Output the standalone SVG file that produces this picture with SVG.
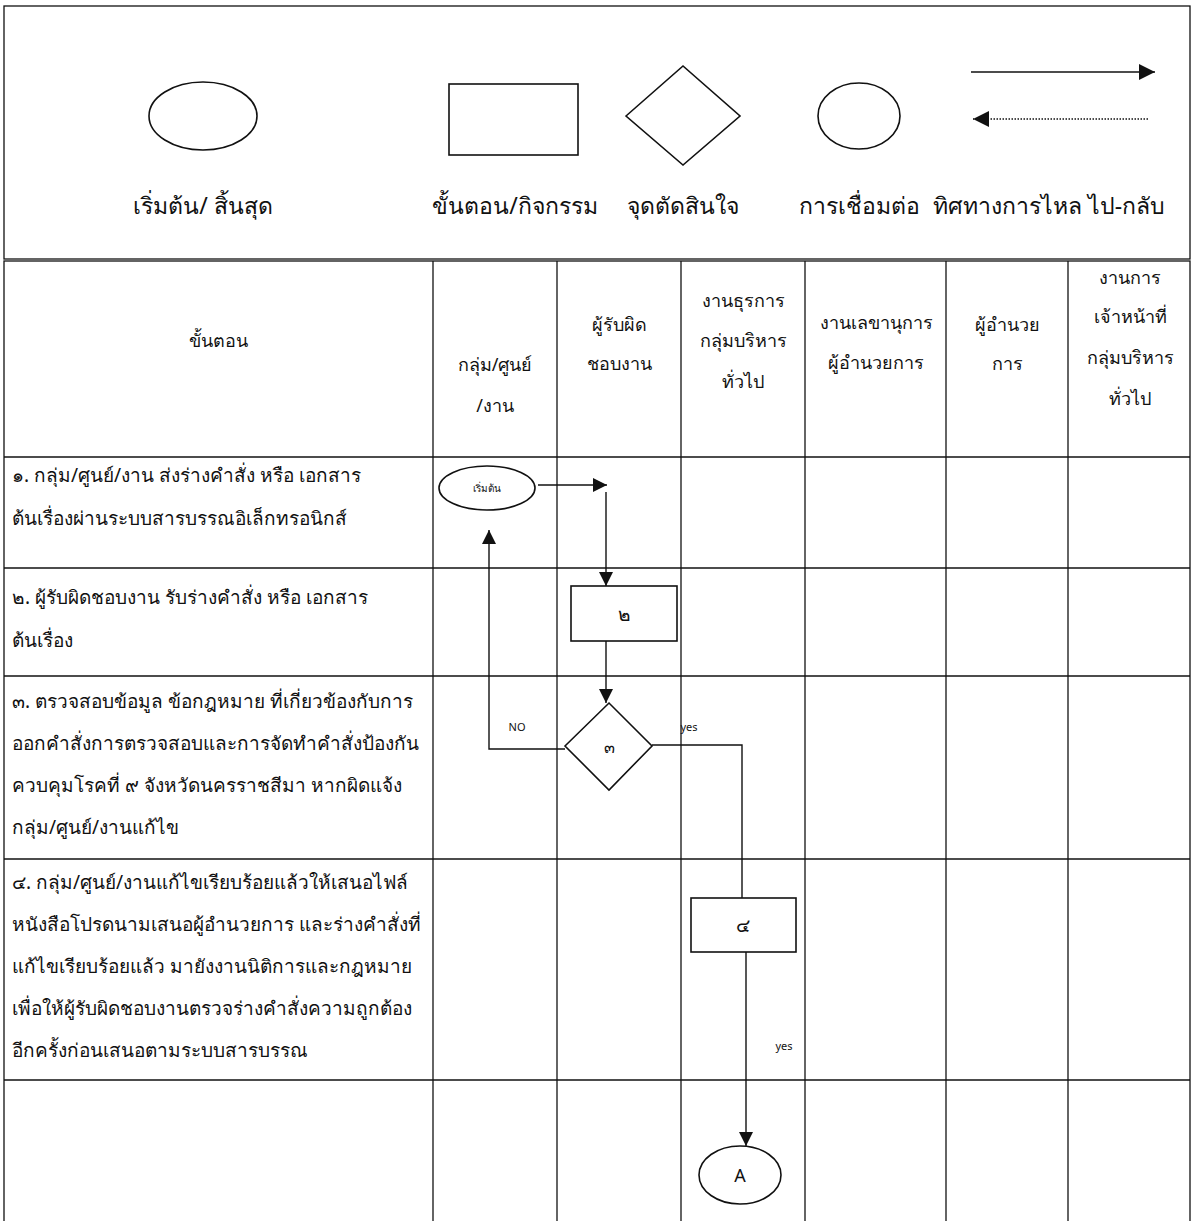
<svg xmlns="http://www.w3.org/2000/svg" width="1195" height="1221" viewBox="0 0 1195 1221">
<style>
text{font-family:"Noto Sans","Liberation Sans",sans-serif;fill:#111}
.lg{font-size:23px;text-anchor:middle}
.hd{font-size:18px;text-anchor:middle}
.rw{font-size:19px}
.sm{font-size:11px;text-anchor:middle}
.grid{stroke:#111;stroke-width:1.3;fill:none}
.shp{stroke:#111;stroke-width:1.6;fill:#fff}
.ln{stroke:#111;stroke-width:1.4;fill:none}
</style>
<defs>
<marker id="ah" viewBox="0 0 10 10" refX="10" refY="5" markerWidth="14" markerHeight="14" markerUnits="userSpaceOnUse" orient="auto"><path d="M0,0 L10,5 L0,10 z" fill="#111"/></marker>
<marker id="ahL" viewBox="0 0 10 10" refX="10" refY="5" markerWidth="16" markerHeight="16" markerUnits="userSpaceOnUse" orient="auto"><path d="M0,0 L10,5 L0,10 z" fill="#111"/></marker>
</defs>
<rect width="1195" height="1221" fill="#fff"/>
<g id="legend">
<rect class="grid" x="4" y="6" width="1186" height="253"/>
<ellipse class="shp" cx="203" cy="116" rx="54" ry="34"/>
<rect class="shp" x="449" y="84" width="129" height="71"/>
<polygon class="shp" points="626,116 683,66 740,116 683,165"/>
<ellipse class="shp" cx="859" cy="116" rx="41" ry="33"/>
<line class="ln" x1="971" y1="72" x2="1155" y2="72" marker-end="url(#ahL)"/>
<line class="ln" x1="1148" y1="119" x2="973" y2="119" stroke-dasharray="1.5,1.5" marker-end="url(#ahL)"/>
<text class="lg" x="203" y="214">เริ่มต้น/ สิ้นสุด</text>
<text class="lg" x="515" y="214">ขั้นตอน/กิจกรรม</text>
<text class="lg" x="683" y="214">จุดตัดสินใจ</text>
<text class="lg" x="859" y="214">การเชื่อมต่อ</text>
<text class="lg" x="1049" y="214">ทิศทางการไหล ไป-กลับ</text>
</g>
<g id="table">
<rect class="grid" x="4" y="261" width="1186" height="970"/>
<line class="grid" x1="4" y1="457" x2="1190" y2="457"/>
<line class="grid" x1="4" y1="568" x2="1190" y2="568"/>
<line class="grid" x1="4" y1="676" x2="1190" y2="676"/>
<line class="grid" x1="4" y1="859" x2="1190" y2="859"/>
<line class="grid" x1="4" y1="1080" x2="1190" y2="1080"/>
<line class="grid" x1="433" y1="261" x2="433" y2="1221"/>
<line class="grid" x1="557" y1="261" x2="557" y2="1221"/>
<line class="grid" x1="681" y1="261" x2="681" y2="1221"/>
<line class="grid" x1="805" y1="261" x2="805" y2="1221"/>
<line class="grid" x1="946" y1="261" x2="946" y2="1221"/>
<line class="grid" x1="1068" y1="261" x2="1068" y2="1221"/>
<text class="hd" x="218" y="347">ขั้นตอน</text>
<text class="hd" x="495" y="371">กลุ่ม/ศูนย์</text>
<text class="hd" x="495" y="412">/งาน</text>
<text class="hd" x="619" y="331">ผู้รับผิด</text>
<text class="hd" x="619" y="370">ชอบงาน</text>
<text class="hd" x="743" y="307">งานธุรการ</text>
<text class="hd" x="743" y="347">กลุ่มบริหาร</text>
<text class="hd" x="743" y="388">ทั่วไป</text>
<text class="hd" x="876" y="329">งานเลขานุการ</text>
<text class="hd" x="876" y="369">ผู้อำนวยการ</text>
<text class="hd" x="1007" y="331">ผู้อำนวย</text>
<text class="hd" x="1007" y="370">การ</text>
<text class="hd" x="1130" y="284">งานการ</text>
<text class="hd" x="1130" y="323">เจ้าหน้าที่</text>
<text class="hd" x="1130" y="364">กลุ่มบริหาร</text>
<text class="hd" x="1130" y="405">ทั่วไป</text>
<text class="rw" x="12" y="482">๑. กลุ่ม/ศูนย์/งาน ส่งร่างคำสั่ง หรือ เอกสาร</text>
<text class="rw" x="12" y="525">ต้นเรื่องผ่านระบบสารบรรณอิเล็กทรอนิกส์</text>
<text class="rw" x="12" y="604">๒. ผู้รับผิดชอบงาน รับร่างคำสั่ง หรือ เอกสาร</text>
<text class="rw" x="12" y="647">ต้นเรื่อง</text>
<text class="rw" x="12" y="708">๓. ตรวจสอบข้อมูล ข้อกฎหมาย ที่เกี่ยวข้องกับการ</text>
<text class="rw" x="12" y="750">ออกคำสั่งการตรวจสอบและการจัดทำคำสั่งป้องกัน</text>
<text class="rw" x="12" y="792">ควบคุมโรคที่ ๙ จังหวัดนครราชสีมา หากผิดแจ้ง</text>
<text class="rw" x="12" y="834">กลุ่ม/ศูนย์/งานแก้ไข</text>
<text class="rw" x="12" y="889">๔. กลุ่ม/ศูนย์/งานแก้ไขเรียบร้อยแล้วให้เสนอไฟล์</text>
<text class="rw" x="12" y="931">หนังสือโปรดนามเสนอผู้อำนวยการ และร่างคำสั่งที่</text>
<text class="rw" x="12" y="973">แก้ไขเรียบร้อยแล้ว มายังงานนิติการและกฎหมาย</text>
<text class="rw" x="12" y="1015">เพื่อให้ผู้รับผิดชอบงานตรวจร่างคำสั่งความถูกต้อง</text>
<text class="rw" x="12" y="1057">อีกครั้งก่อนเสนอตามระบบสารบรรณ</text>
</g>
<g id="connectors">
<line class="ln" x1="538" y1="485" x2="607" y2="485" marker-end="url(#ah)"/>
<line class="ln" x1="606" y1="492" x2="606" y2="586" marker-end="url(#ah)"/>
<line class="ln" x1="606" y1="641" x2="606" y2="703" marker-end="url(#ah)"/>
<polyline class="ln" points="565,749 489,749 489,530" marker-end="url(#ah)"/>
<polyline class="ln" points="652,745 742,745 742,898"/>
<line class="ln" x1="746" y1="952" x2="746" y2="1146" marker-end="url(#ah)"/>
<text class="sm" x="517" y="731">NO</text>
<text class="sm" x="689" y="731">yes</text>
<text class="sm" x="784" y="1050">yes</text>
</g>
<g id="start"><ellipse class="shp" cx="487" cy="488" rx="48" ry="22"/><text class="sm" x="487" y="492" style="font-size:10px">เริ่มต้น</text></g>
<g id="step2"><rect class="shp" x="571" y="586" width="106" height="55"/><text class="hd" x="624" y="621" style="font-size:19px">๒</text></g>
<g id="step3"><polygon class="shp" points="565,746 609,703 652,746 609,790"/><text class="hd" x="609" y="753" style="font-size:16px">๓</text></g>
<g id="step4"><rect class="shp" x="691" y="898" width="105" height="54"/><text class="hd" x="743" y="932" style="font-size:19px">๔</text></g>
<g id="connA"><ellipse class="shp" cx="740" cy="1175" rx="41" ry="29"/><text class="hd" x="740" y="1182">A</text></g>
</svg>
